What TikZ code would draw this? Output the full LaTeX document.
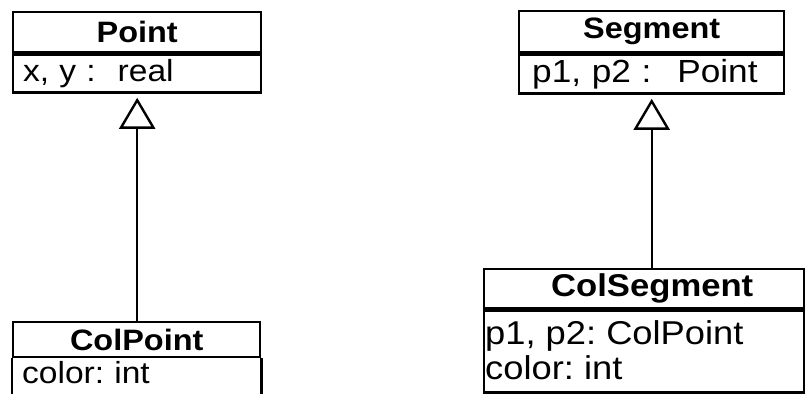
\documentclass[tikz,border=0pt]{standalone}
\usepackage{fontspec}
\setmainfont{Liberation Sans}[FakeStretch=1.1]
\usetikzlibrary{arrows.meta}
\frenchspacing

\begin{document}
\begin{tikzpicture}[x=1pt,y=-1pt,
  umlline/.style={line width=2.4pt},
  hdr/.style={draw, umlline, anchor=north west, inner sep=0pt,
    font=\fontsize{29.5}{34}\selectfont\bfseries},
  attr/.style={anchor=north west, inner ysep=0pt, align=left,
    font=\fontsize{30.5}{36}\selectfont},
  compart/.style={draw, umlline, anchor=north west, inner sep=0pt},
  inherit/.style={umlline, -{Triangle[open, width=36pt, length=31pt]}, shorten >=4pt}
]
\useasboundingbox (0,0) rectangle (806,394);

% class Point
\node[hdr, minimum width=248pt, minimum height=40pt] (pointH) at (12,11) {Point};
\node[attr, draw, umlline, inner xsep=10pt, text width=228pt, minimum height=38pt] (pointA) at (pointH.south west) {x, y :\hspace{22pt}real};

% class ColPoint (attribute compartment runs past the lower edge)
\node[hdr, minimum width=247pt, minimum height=35pt] (cpH) at (12,321) {ColPoint};
\node[attr, inner xsep=10pt, text width=227pt, minimum height=28pt] (cpA) at (cpH.south west) {color: int};
\draw[umlline] (cpH.south west) -- (cpH.south west |- 0,394);
\draw[umlline] (cpH.south east) -- (cpH.south east |- 0,394);

% class Segment
\node[hdr, minimum width=265pt, minimum height=41pt] (segH) at (518,10) {Segment};
\node[attr, draw, umlline, inner xsep=13pt, text width=239pt, minimum height=39pt, font=\fontsize{32}{36}\selectfont] (segA) at (segH.south west) {p1, p2 :\hspace{26pt}Point};

% class ColSegment
\node[hdr, minimum width=320pt, minimum height=39pt, font=\fontsize{31.5}{36}\selectfont\bfseries] (csH) at (483,268) {\hspace{16pt}ColSegment};
\node[compart, minimum width=320pt, minimum height=82pt] (csBox) at (csH.south west) {};
\node[attr, inner xsep=2pt, inner ysep=11pt, font=\fontsize{33}{35}\selectfont] (csA) at (csBox.north west) {p1, p2: ColPoint\\color: int};

% generalisations
\draw[inherit] (cpH.north -| pointA.south) -- (pointA.south);
\draw[inherit] (csH.north -| segA.south) -- (segA.south);
\end{tikzpicture}
\end{document}
